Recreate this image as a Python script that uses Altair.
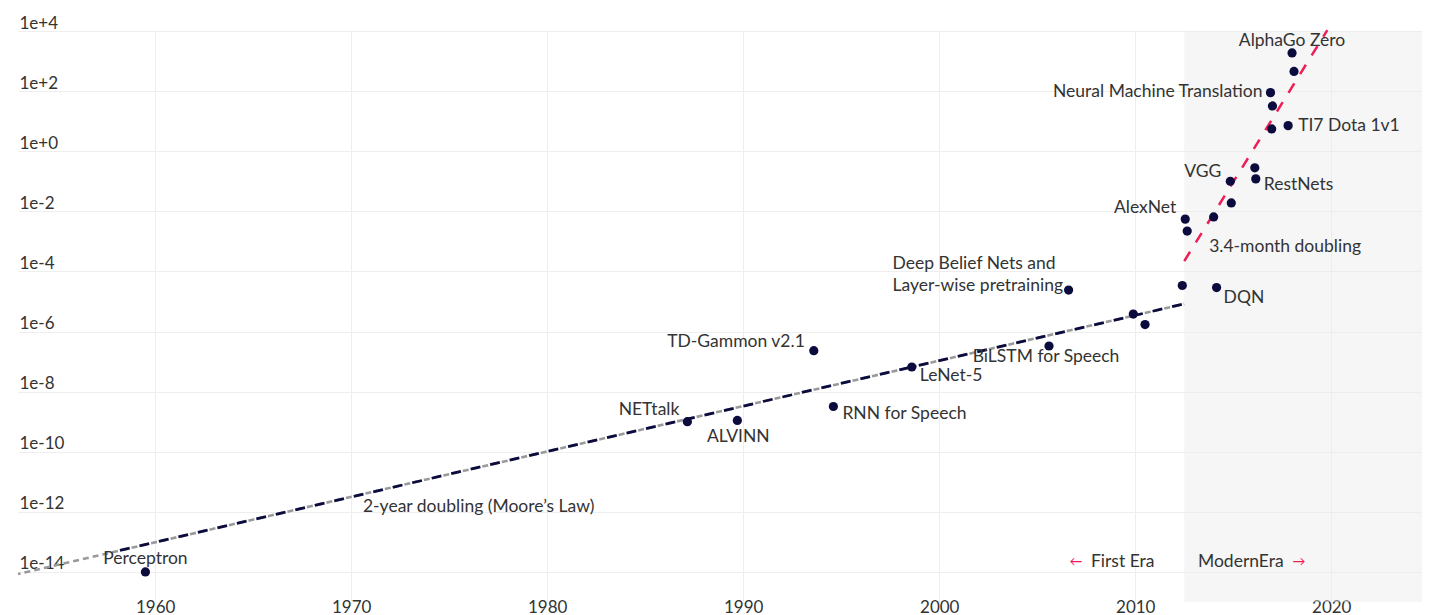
import altair as alt
import pandas as pd

# ---- data ----
names = ["Perceptron", "NETtalk", "ALVINN", "TD-Gammon v2.1", "RNN for Speech",
         "LeNet-5", "BiLSTM for Speech", "Deep Belief Nets and\nLayer-wise pretraining",
         "", "", "", "AlexNet", "", "", "", "VGG", "", "RestNets", "",
         "TI7 Dota 1v1", "", "Neural Machine Translation", "", "AlphaGo Zero", "DQN"]
years = [1959.5, 1987.15, 1989.7, 1993.6, 1994.6,
         1998.6, 2005.6, 2006.6,
         2009.9, 2010.5, 2012.4, 2012.55, 2012.65, 2014.0, 2014.9, 2014.85, 2016.1, 2016.15, 2016.96,
         2017.8, 2017.0, 2016.9, 2018.1, 2018.0, 2014.15]
pfs_days = [1.0e-14, 1.0e-9, 1.1e-9, 2.3e-7, 3.2e-9,
            6.6e-8, 3.3e-7, 2.4e-5,
            3.8e-6, 1.7e-6, 3.4e-5, 5.5e-3, 2.2e-3, 6.5e-3, 1.9e-2, 0.10, 0.28, 0.12, 5.5,
            7.1, 32, 89, 450, 1860, 2.9e-5]

moore_grey_years = [1953.0, 2012.5]
moore_grey_vals = [8.5e-15, 8.3e-6]
moore_navy_years = [1958.2, 2012.5]
moore_navy_vals = [5.19e-14, 8.3e-6]
modern_years = [2012.5, 2019.8]
modern_vals = [2.2e-4, 1.07e4]

era_start = 2012.5
era_end = 2030
y_ticks = [1e-14, 1e-12, 1e-10, 1e-8, 1e-6, 1e-4, 1e-2, 1e0, 1e2, 1e4]
x_ticks = [1960, 1970, 1980, 1990, 2000, 2010, 2020]

notes = ["2-year doubling (Moore’s Law)", "3.4-month doubling", "First Era", "ModernEra"]
note_years = [1970.6, 2013.77, 2007.74, 2013.2]
note_vals = [1.5e-12, 6.5e-4, 2.1e-14, 2.1e-14]
arrows = ["←", "→"]
arrow_years = [2006.98, 2018.36]
arrow_vals = [2.1e-14, 2.1e-14]

# ---- styling ----
FONT = "Lato"
NAVY = "#0b0b3d"
RED = "#ef1d56"
TXT = "#333333"
LABEL_SIZE = 17.5

x_enc = alt.X("year:Q",
              scale=alt.Scale(domain=[1953, 2024.63], nice=False, zero=False),
              axis=alt.Axis(values=x_ticks, format="d", labelPadding=-3, labelFlush=False,
                            title=None))
y_enc = alt.Y("pfd:Q",
              scale=alt.Scale(type="log", domain=[1e-15, 1e4], nice=False),
              axis=alt.Axis(values=y_ticks, format=".0e", labelAlign="left",
                            labelBaseline="alphabetic", labelPadding=-1, labelOffset=-3,
                            title=None))

pts = pd.DataFrame({"year": years, "pfd": pfs_days, "name": names})

era = pd.DataFrame({"year": [era_start], "year2": [era_end], "pfd": [1e-15], "pfd2": [1e4]})
rect = alt.Chart(era).mark_rect(color="#ebebeb", opacity=0.45, clip=True).encode(
    x=x_enc, x2="year2:Q", y=y_enc, y2="pfd2:Q")

grey = alt.Chart(pd.DataFrame({"year": moore_grey_years, "pfd": moore_grey_vals})).mark_line(
    color="#9a9a9a", strokeWidth=2.6, strokeDash=[6, 4], strokeDashOffset=3.4
).encode(x=x_enc, y=y_enc)
navy = alt.Chart(pd.DataFrame({"year": moore_navy_years, "pfd": moore_navy_vals})).mark_line(
    color=NAVY, strokeWidth=2.8, strokeDash=[10, 10]).encode(x=x_enc, y=y_enc)
red = alt.Chart(pd.DataFrame({"year": modern_years, "pfd": modern_vals})).mark_line(
    color=RED, strokeWidth=2.5, strokeDash=[11, 11]).encode(x=x_enc, y=y_enc)

dots = alt.Chart(pts).mark_circle(size=85, color=NAVY, opacity=1).encode(x=x_enc, y=y_enc)

label_style = {
    "Perceptron": ("center", 0, -13),
    "NETtalk": ("right", -8, -12),
    "ALVINN": ("center", 1, 17),
    "TD-Gammon v2.1": ("right", -9, -9),
    "RNN for Speech": ("left", 9, 7),
    "LeNet-5": ("left", 8, 9),
    "BiLSTM for Speech": ("center", -3, 11),
    "Deep Belief Nets and\nLayer-wise pretraining": ("left", -176, -26),
    "AlexNet": ("right", -9, -11),
    "VGG": ("right", -9, -9),
    "RestNets": ("left", 8, 6),
    "TI7 Dota 1v1": ("left", 10, 0),
    "Neural Machine Translation": ("right", -8, -1),
    "AlphaGo Zero": ("center", 0, -12),
    "DQN": ("left", 7, 10),
}

layers = [rect, grey, navy, red, dots]
for nm in names:
    if not nm:
        continue
    al, dx, dy = label_style[nm]
    layers.append(
        alt.Chart(pts).transform_filter(alt.datum.name == nm).mark_text(
            align=al, dx=dx, dy=dy, baseline="middle", font=FONT, fontSize=LABEL_SIZE,
            color=TXT, lineBreak="\n", lineHeight=22
        ).encode(x=x_enc, y=y_enc, text="name:N")
    )

notes_df = pd.DataFrame({"year": note_years, "pfd": note_vals, "name": notes})
layers.append(alt.Chart(notes_df).mark_text(
    align="left", baseline="middle", font=FONT, fontSize=LABEL_SIZE, color=TXT
).encode(x=x_enc, y=y_enc, text="name:N"))

arrows_df = pd.DataFrame({"year": arrow_years, "pfd": arrow_vals, "name": arrows})
layers.append(alt.Chart(arrows_df).mark_text(
    align="center", baseline="middle", font=FONT, fontSize=13, color=RED
).encode(x=x_enc, y=y_enc, text="name:N"))

chart = alt.layer(*layers).properties(
    width=1404, height=571,
    autosize=alt.AutoSizeParams(type="none"),
    padding={"left": 10, "top": 23, "right": 0, "bottom": 13},
).configure_view(stroke=None).configure_axis(
    labelFont=FONT, labelFontSize=17, labelColor=TXT,
    grid=True, gridColor="#eeeeee", gridWidth=1,
    domain=False, ticks=False,
)

chart.save("out.html", embed_options={"renderer": "svg", "actions": False})
